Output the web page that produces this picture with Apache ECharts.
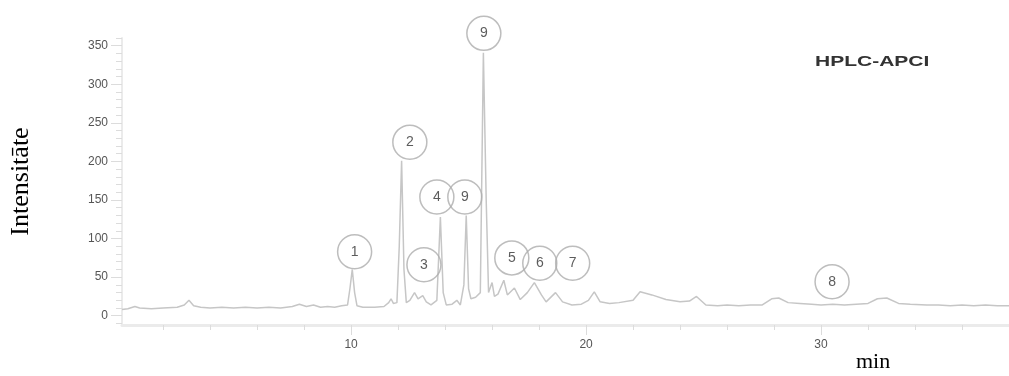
<!DOCTYPE html>
<html>
<head>
<meta charset="utf-8">
<script src="https://cdn.jsdelivr.net/npm/echarts@6/dist/echarts.min.js"></script>
<style>
html,body{margin:0;padding:0;background:#fff;}
#chart{width:1009px;height:376px;}
</style>
</head>
<body>
<div id="chart"></div>
<script>
// Retention time (min)
const times = [0.25,0.5,0.8,1.0,1.5,2.0,2.6,2.9,3.1,3.3,3.6,4.0,4.5,5.0,5.5,6.0,6.5,7.0,7.5,7.8,8.1,8.4,8.7,9.0,9.3,9.6,9.85,9.95,10.05,10.15,10.25,10.5,11.0,11.4,11.6,11.7,11.8,11.95,12.05,12.15,12.25,12.35,12.5,12.7,12.85,13.05,13.2,13.4,13.65,13.8,13.92,14.05,14.3,14.5,14.65,14.8,14.9,15.0,15.1,15.3,15.5,15.63,15.75,15.85,16.0,16.1,16.25,16.5,16.65,16.95,17.2,17.5,17.8,18.1,18.3,18.7,19.0,19.4,19.8,20.1,20.35,20.6,21.0,21.4,22.0,22.3,22.8,23.4,24.0,24.4,24.7,25.1,25.6,26.0,26.5,27.0,27.5,27.9,28.2,28.6,29.1,29.6,30.0,30.5,31.0,31.5,32.0,32.4,32.8,33.3,33.8,34.5,35.0,35.5,36.0,36.5,37.0,37.5,38.0];
// Intensity
const intensity = [8,9,12,10,9,10,11,14,20,13,11,10,11,10,11,10,11,10,12,15,12,14,11,12,11,13,14,35,60,30,13,11,11,12,17,22,16,17,90,201,60,17,20,30,22,26,18,14,20,128,30,14,15,20,14,40,130,35,22,24,30,341,150,30,43,25,28,46,27,36,21,30,43,27,18,30,18,14,15,20,31,18,16,17,20,31,27,21,18,19,25,14,13,14,13,14,14,22,23,17,16,15,14,15,14,15,16,22,23,16,15,14,14,13,14,13,14,13,13];
// Circled peak labels and where they sit (min, intensity)
const peakLabels = ['1','2','3','4','9','9','5','6','7','8'];
const labelTimes = [10.15,12.5,13.1,13.65,14.84,15.65,16.84,18.03,19.43,30.47];
const labelIntensity = [83,225,66,154,154,366,75,68,68,44];
// Tick labels
const yTickLabels = [0,50,100,150,200,250,300,350];
const xTickLabels = [10,20,30];
const yMinorTicks = [-10,0,10,20,30,40,50,60,70,80,90,100,110,120,130,140,150,160,170,180,190,200,210,220,230,240,250,260,270,280,290,300,310,320,330,340,350,360];
const xMinorTicks = [2,4,6,8,10,12,14,16,18,20,22,24,26,28,30,32,34,36];

const chart = echarts.init(document.getElementById('chart'));
const tickColor = '#dcdcdc';
const labelStyle = {color:'#555', fontSize:12, fontFamily:'Liberation Sans, Arial, sans-serif'};
chart.setOption({
  animation:false,
  backgroundColor:'#fff',
  grid:{left:121, right:0, top:38, bottom:51},
  xAxis:[{
    type:'value', min:0.25, max:38, position:'bottom',
    axisLine:{show:true, onZero:false, lineStyle:{color:'#ebebeb', width:3}},
    axisTick:{show:true, customValues:xMinorTicks, length:5, lineStyle:{color:tickColor}},
    axisLabel:Object.assign({show:true, customValues:xTickLabels, margin:14}, labelStyle),
    splitLine:{show:false}
  },{
    type:'value', min:0.25, max:38, position:'bottom',
    axisLine:{show:false, onZero:false},
    axisTick:{show:true, customValues:xTickLabels, length:10, lineStyle:{color:tickColor}},
    axisLabel:{show:false}, splitLine:{show:false}
  }],
  yAxis:[{
    type:'value', min:-12, max:360, position:'left',
    name:'Intensitāte', nameLocation:'middle', nameGap:88, nameRotate:90,
    nameTextStyle:{color:'#000', fontSize:26, fontFamily:'Liberation Serif, Times New Roman, serif'},
    axisLine:{show:true, onZero:false, lineStyle:{color:'#ebebeb', width:2}},
    axisTick:{show:true, customValues:yMinorTicks, length:6, lineStyle:{color:tickColor}},
    axisLabel:Object.assign({show:true, customValues:yTickLabels, margin:14}, labelStyle),
    splitLine:{show:false}
  },{
    type:'value', min:-12, max:360, position:'left',
    axisLine:{show:false, onZero:false},
    axisTick:{show:true, customValues:yTickLabels, length:11, lineStyle:{color:tickColor}},
    axisLabel:{show:false}, splitLine:{show:false}
  }],
  graphic:[
    {type:'text', left:856, top:351, style:{text:'min', fill:'#000', font:'22px "Liberation Serif", serif'}},
    {type:'text', x:815, y:54, scaleX:1.4, style:{text:'HPLC-APCI', fill:'#333', font:'bold 15px "Liberation Sans", Arial, sans-serif'}}
  ],
  series:[{
    type:'line', xAxisIndex:0, yAxisIndex:0,
    data: times.map((t,i)=>[t, intensity[i]]),
    showSymbol:false, symbol:'none',
    lineStyle:{color:'#c6c6c6', width:1.5},
    z:2
  },{
    type:'scatter', xAxisIndex:0, yAxisIndex:0, clip:false,
    data: peakLabels.map((n,i)=>({name:n, value:[labelTimes[i], labelIntensity[i]]})),
    symbol:'circle', symbolSize:34,
    itemStyle:{color:'rgba(255,255,255,0)', borderColor:'#adadad', borderWidth:1.5},
    label:{show:true, position:'inside', formatter:p=>p.name, color:'#333', fontSize:14, fontFamily:'Liberation Sans, Arial, sans-serif'},
    z:3
  }]
});
</script>
</body>
</html>
